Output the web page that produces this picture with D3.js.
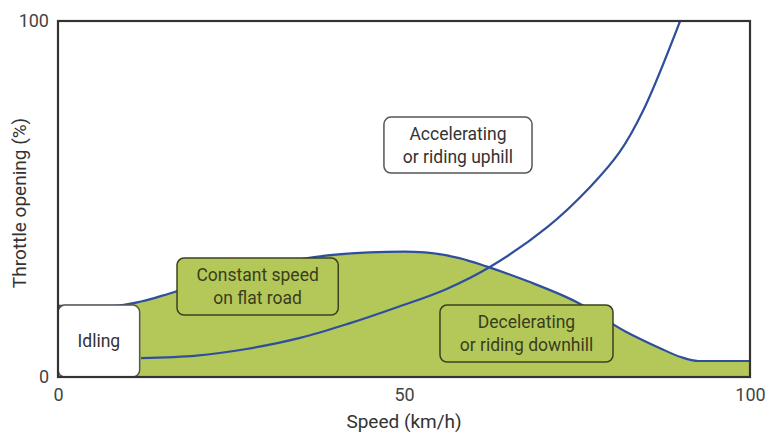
<!DOCTYPE html>
<html>
<head>
<meta charset="utf-8">
<script src="https://cdn.jsdelivr.net/npm/d3@7"></script>
<style>
  body { margin: 0; background: #fff; }
  text { font-family: Roboto, "Open Sans", sans-serif; }
</style>
</head>
<body>
<div id="chart"></div>
<script>
// dane (predkosc km/h, otwarcie przepustnicy %)
var flatSpeed    = [0, 8, 12, 16, 25, 37, 45, 50, 53, 58, 62, 68, 75, 82, 87, 90, 92.5, 100];
var flatThrottle = [20, 20, 21.2, 23.4, 29, 33.7, 35, 35.2, 35, 33.4, 31, 26.8, 21, 12.8, 8.1, 5.6, 4.5, 4.5];

var accSpeed    = [12, 20, 27, 35, 42, 49, 56, 62.4, 70.7, 76.9, 81.2, 84.6, 89.9];
var accThrottle = [5.3, 6, 7.8, 11, 15, 19.6, 24.6, 30.9, 42.1, 53.4, 63.3, 75, 100];

var xTicks = [0, 50, 100];
var yTicks = [0, 100];

// ramki z opisami: [x0, x1, y0, y1] w jednostkach danych
var labelNames = [["Idling"], ["Constant speed", "on flat road"], ["Accelerating", "or riding uphill"], ["Decelerating", "or riding downhill"]];
var labelBoxes = [[0, 11.8, 0, 20.2], [17.2, 40.5, 17.4, 33.4], [47.1, 68.5, 57.3, 73], [55.2, 80.2, 4.2, 20.2]];
var labelFill  = ["#ffffff", "#b4c85a", "#ffffff", "#b4c85a"];

var margin = {top: 21, right: 15, bottom: 57, left: 58};
var width = 765 - margin.left - margin.right,
    height = 434 - margin.top - margin.bottom;

var svg = d3.select("#chart").append("svg")
    .attr("width", 765).attr("height", 434);

var g = svg.append("g")
    .attr("transform", "translate(" + margin.left + "," + margin.top + ")");

var x = d3.scaleLinear().domain([0, 100]).range([0, width]);
var y = d3.scaleLinear().domain([0, 100]).range([height, 0]);

var flatData = flatSpeed.map(function(s, i){ return [s, flatThrottle[i]]; });
var accData = accSpeed.map(function(s, i){ return [s, accThrottle[i]]; });

// pole zielone
g.append("path")
  .datum(flatData)
  .attr("fill", "#b4c85a")
  .attr("d", d3.area().curve(d3.curveMonotoneX)
      .x(function(d){ return x(d[0]); })
      .y0(y(0))
      .y1(function(d){ return y(d[1]); }));

var lineFlat = d3.line().curve(d3.curveMonotoneX)
    .x(function(d){ return x(d[0]); })
    .y(function(d){ return y(d[1]); });

var lineAcc = d3.line().curve(d3.curveCatmullRom.alpha(0.5))
    .x(function(d){ return x(d[0]); })
    .y(function(d){ return y(d[1]); });

g.append("path").datum(flatData)
  .attr("fill", "none").attr("stroke", "#2f4f9c").attr("stroke-width", 2.2)
  .attr("d", lineFlat);

g.append("clipPath").attr("id", "clip")
  .append("rect").attr("width", width).attr("height", height);

g.append("path").datum(accData)
  .attr("clip-path", "url(#clip)")
  .attr("fill", "none").attr("stroke", "#2f4f9c").attr("stroke-width", 2.2)
  .attr("d", lineAcc);

// ramki z opisami
labelBoxes.forEach(function(b, i){
  var bx = x(b[0]), bw = x(b[1]) - x(b[0]);
  var by = y(b[3]), bh = y(b[2]) - y(b[3]);
  var dark = labelFill[i] != "#ffffff";
  g.append("rect")
    .attr("x", bx).attr("y", by).attr("width", bw).attr("height", bh)
    .attr("rx", 7).attr("ry", 7)
    .attr("fill", labelFill[i])
    .attr("stroke", dark ? "#3d4020" : "#555")
    .attr("stroke-width", 1.5);
  var lines = labelNames[i];
  var t = g.append("text")
    .attr("text-anchor", "middle")
    .style("font-size", "17.5px")
    .attr("fill", dark ? "#3a3d1c" : "#333");
  lines.forEach(function(s, k){
    t.append("tspan")
      .attr("x", bx + bw / 2)
      .attr("y", by + bh / 2 + (k - (lines.length - 1) / 2) * 23 + 6)
      .text(s);
  });
});

// ramka wykresu
g.append("rect")
  .attr("width", width).attr("height", height)
  .attr("fill", "none").attr("stroke", "#333").attr("stroke-width", 2.2);

// osie
var xAxis = g.append("g")
  .attr("transform", "translate(0," + height + ")")
  .call(d3.axisBottom(x).tickValues(xTicks).tickSize(0).tickPadding(11));
var yAxis = g.append("g")
  .call(d3.axisLeft(y).tickValues(yTicks).tickSize(0).tickPadding(9));
[xAxis, yAxis].forEach(function(a){
  a.select(".domain").remove();
  a.selectAll("text").style("font-size", "18px").attr("fill", "#444")
    .style("font-family", "Roboto, sans-serif");
});

// tytuly osi
g.append("text")
  .attr("x", width / 2).attr("y", height + 51)
  .attr("text-anchor", "middle")
  .style("font-size", "19px").attr("fill", "#333")
  .text("Speed (km/h)");

g.append("text")
  .attr("transform", "rotate(-90)")
  .attr("x", -height / 2 - 4).attr("y", -32)
  .attr("text-anchor", "middle")
  .style("font-size", "19px").attr("fill", "#333")
  .text("Throttle opening (%)");
</script>
</body>
</html>
